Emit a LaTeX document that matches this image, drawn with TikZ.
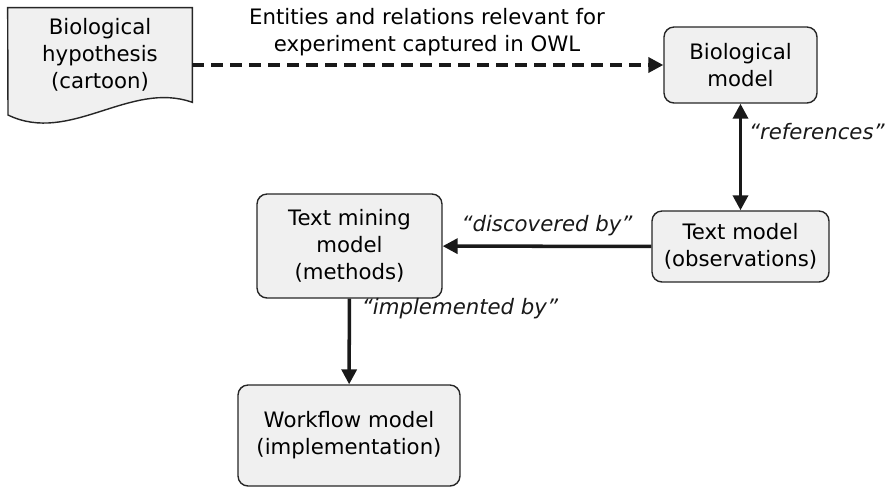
\documentclass[tikz,border=0pt]{standalone}
\usepackage{fontspec}
\setmainfont{DejaVu Sans}
\usetikzlibrary{arrows.meta,backgrounds}

\begin{document}
\begin{tikzpicture}[x=0.02cm,y=-0.02cm,
    font=\fontsize{12.1}{15.3}\selectfont,
    model/.style={draw=black!85,line width=0.8pt,fill=black!6,rounded corners=0.2cm,align=center,inner sep=0pt},
    link/.style={line width=2pt,black!90,-{Triangle[length=0.3cm,width=0.3cm]}},
    rel/.style={font=\fontsize{12.1}{15.3}\selectfont\itshape}]
    \useasboundingbox (0,0) rectangle (889,488);
    \node[align=center,inner sep=0pt,minimum width=3.68cm,minimum height=1.88cm] (hyp) at (100,55) {Biological\\hypothesis\\(cartoon)};
    \begin{scope}[on background layer]
        \draw[line width=0.8pt,draw=black!85,fill=black!6] (hyp.north west) -- (hyp.north east) -- (hyp.south east)
            .. controls (130,80) and (70,145) .. (8,115) -- cycle;
    \end{scope}
    \node[model,minimum width=3.06cm,minimum height=1.52cm] (bio) at (740.5,65) {Biological\\model};
    \node[model,minimum width=3.54cm,minimum height=1.42cm] (txt) at (740.5,246.5) {Text model\\(observations)};
    \node[model,minimum width=3.7cm,minimum height=2.08cm] (tm) at (349.5,246) {Text mining\\model\\(methods)};
    \node[model,minimum width=4.44cm,minimum height=2.02cm] (wf) at (349,435.5) {Workflow model\\(implementation)};
    \node[align=center] (owl) at (427,32) {Entities and relations relevant for\\experiment captured in OWL};
    \draw[link,dashed,dash pattern=on 0.24cm off 0.14cm] (hyp.east |- bio.west) -- (bio.west);
    \draw[link,{Triangle[length=0.3cm,width=0.3cm]}-{Triangle[length=0.3cm,width=0.3cm]}] (bio) -- node[rel,pos=0.26,right=0.02cm] {“references”} (txt);
    \draw[link] (txt) -- node[rel,above=0.05cm] {“discovered by”} (tm);
    \draw[link] (tm) -- node[rel,pos=0.12,right=0.1cm] {“implemented by”} (wf);
\end{tikzpicture}
\end{document}
